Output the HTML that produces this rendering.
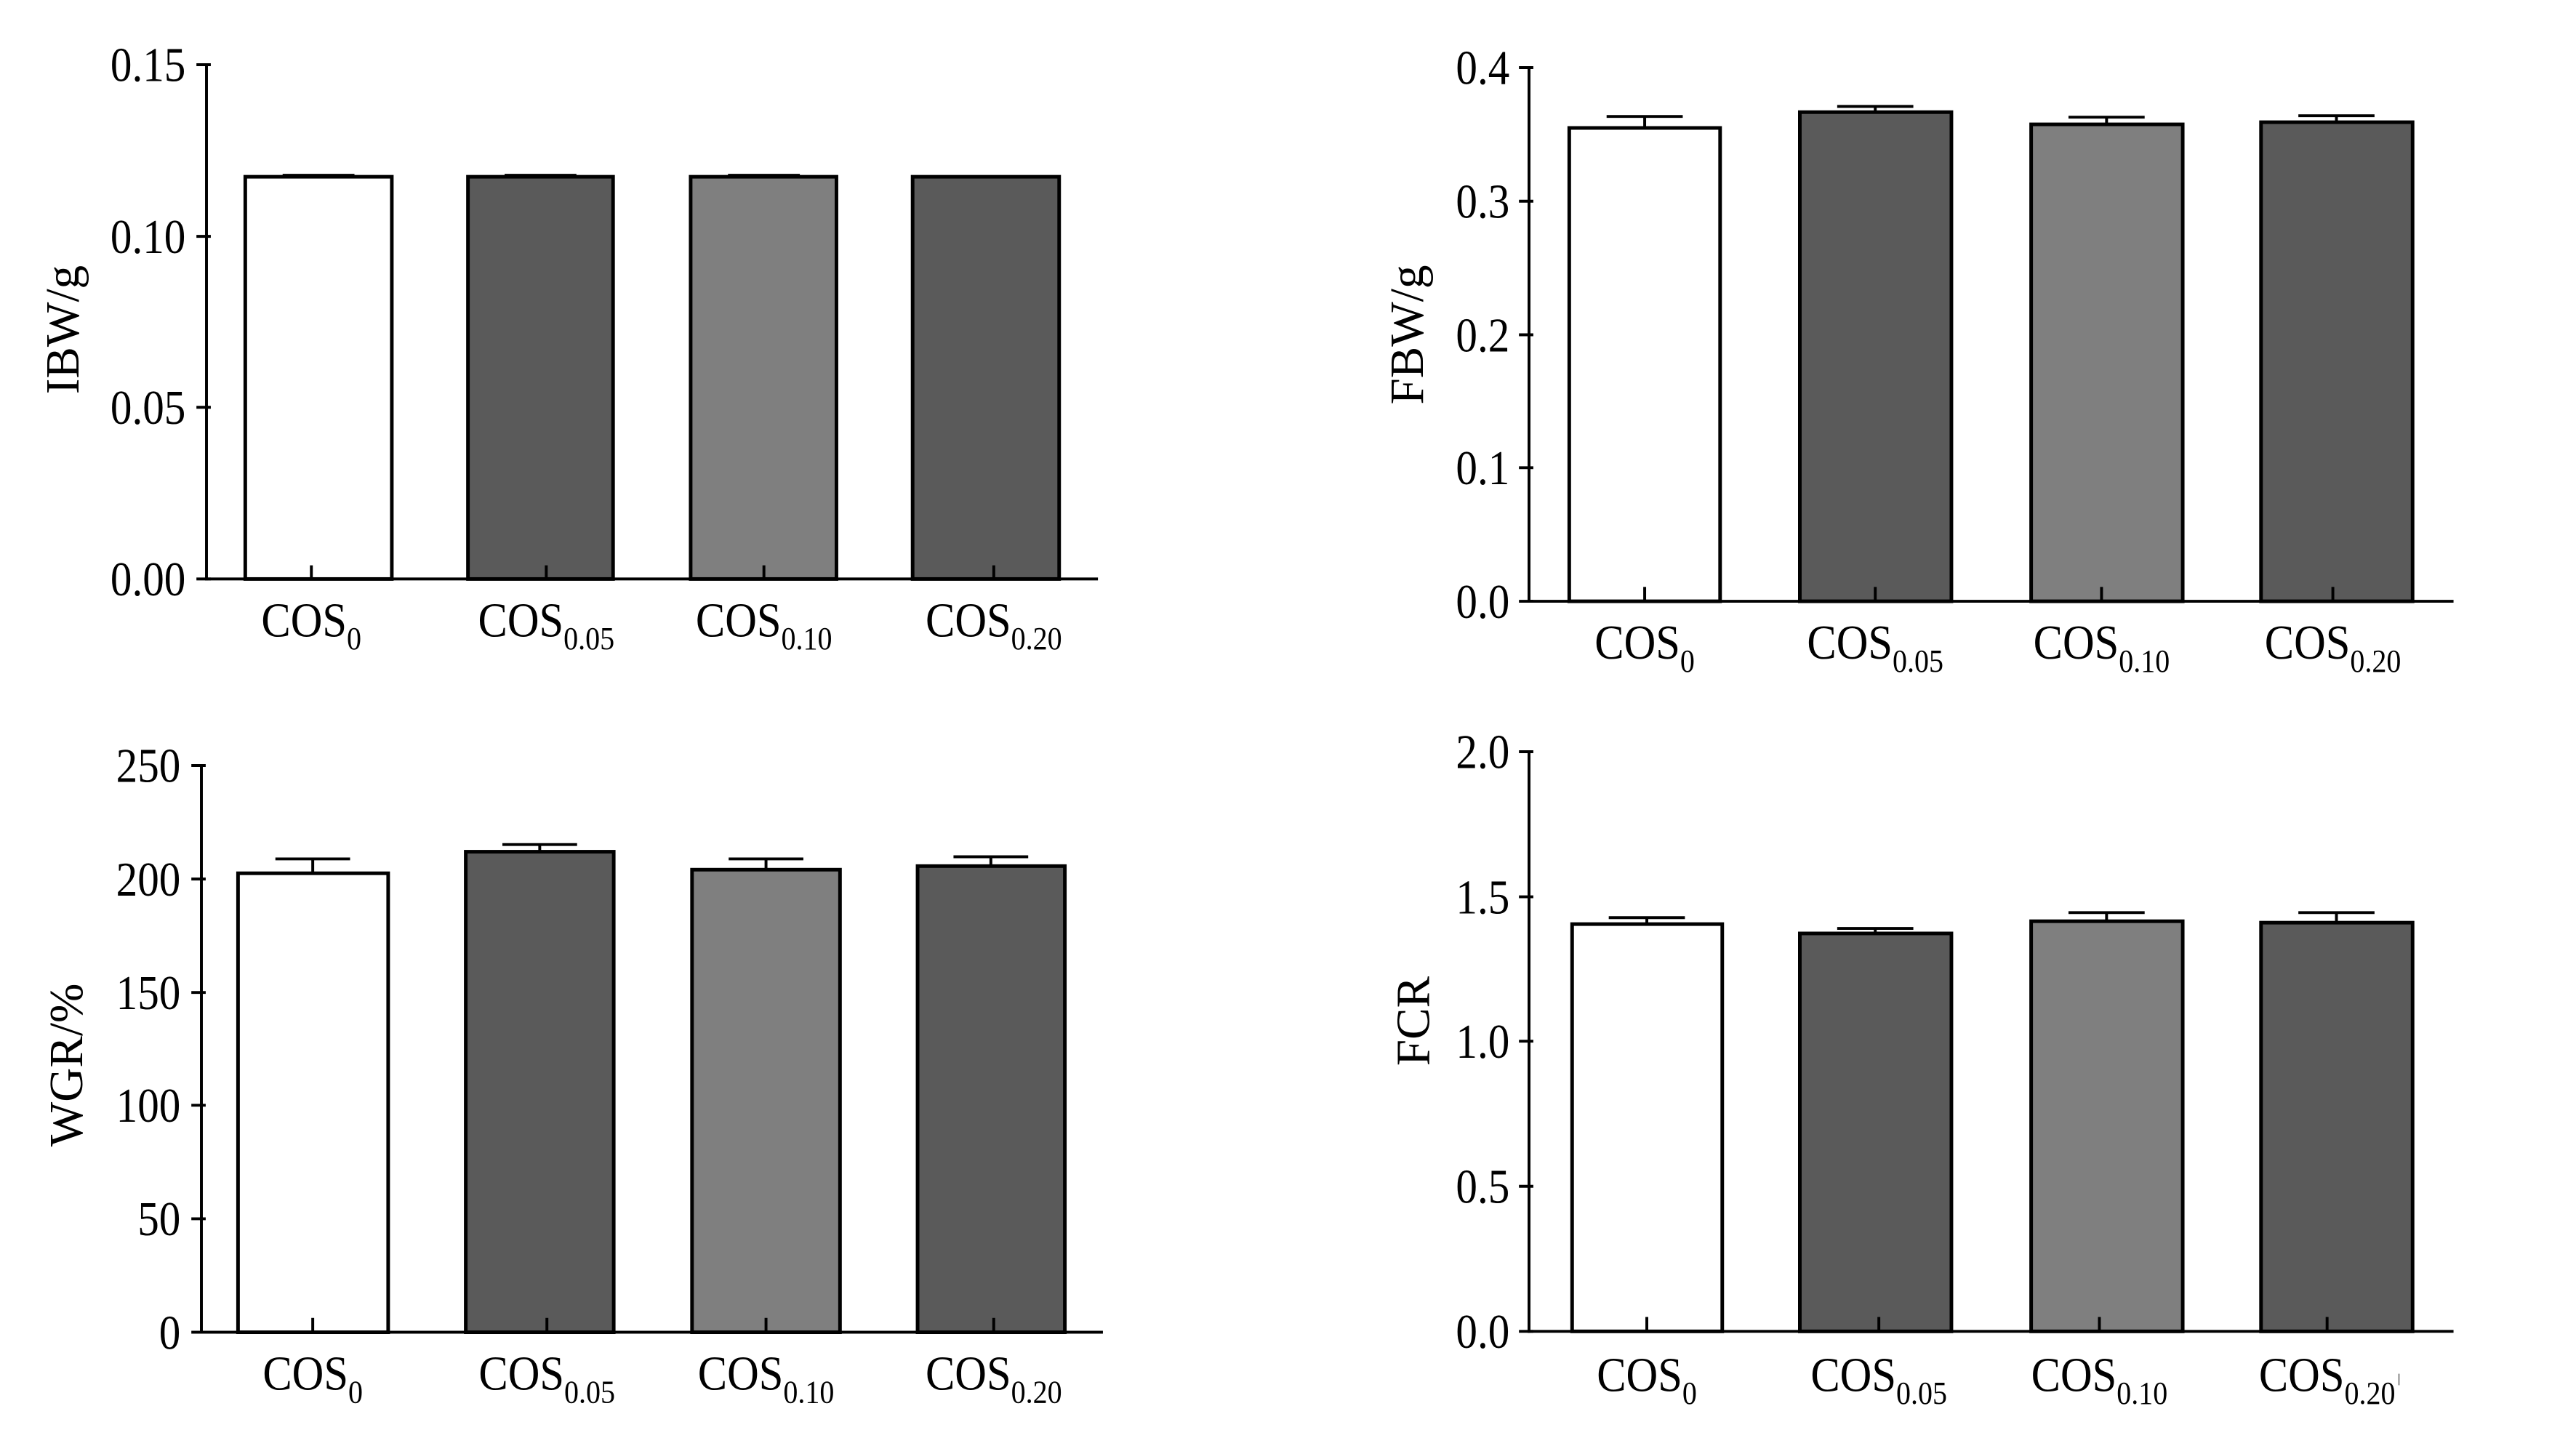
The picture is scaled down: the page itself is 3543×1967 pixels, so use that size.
<!DOCTYPE html>
<html><head><meta charset="utf-8"><style>
html,body{margin:0;padding:0;background:#fff}
svg{display:block}
text{font-family:"Liberation Serif",serif;fill:#000}
</style></head><body>
<svg width="3543" height="1967" viewBox="0 0 3543 1967" xmlns="http://www.w3.org/2000/svg">
<rect width="3543" height="1967" fill="#fff"/>

<!-- Panel 1 -->
<g transform="translate(284,89) scale(0.988) translate(-284,-89)">
<g stroke="#000" stroke-width="4" fill="none">
<line x1="284" y1="87" x2="284" y2="807"/>
<line x1="282" y1="805" x2="1525" y2="805"/>
<line x1="270" y1="89" x2="290" y2="89"/><line x1="270" y1="328" x2="290" y2="328"/><line x1="270" y1="566" x2="290" y2="566"/><line x1="270" y1="805" x2="290" y2="805"/>
</g>
<g stroke="#000" stroke-width="5">
<rect x="338" y="245" width="204" height="560" fill="#fff"/>
<rect x="648" y="245" width="202" height="560" fill="#5a5a5a"/>
<rect x="958" y="245" width="203" height="560" fill="#7f7f7f"/>
<rect x="1267" y="245" width="204" height="560" fill="#5a5a5a"/>
</g>
<g stroke="#000" stroke-width="4">
<line x1="390" y1="243" x2="490" y2="243"/><line x1="699" y1="243" x2="799" y2="243"/><line x1="1010" y1="243" x2="1110" y2="243"/>
<line x1="430" y1="786" x2="430" y2="805"/><line x1="757" y1="786" x2="757" y2="805"/><line x1="1060" y1="786" x2="1060" y2="805"/><line x1="1380" y1="786" x2="1380" y2="805"/>
</g>
<g font-size="68" text-anchor="end">
<text transform="translate(255,112) scale(.88,1)">0.15</text>
<text transform="translate(255,351) scale(.88,1)">0.10</text>
<text transform="translate(255,589) scale(.88,1)">0.05</text>
<text transform="translate(255,828) scale(.88,1)">0.00</text>
</g>
<text font-size="66" text-anchor="middle" transform="translate(106,458) rotate(-90)">IBW/g</text>
<g font-size="68" text-anchor="middle">
<text transform="translate(430,885) scale(.9,1)">COS<tspan font-size="45" dy="18">0</tspan></text>
<text transform="translate(757,885) scale(.9,1)">COS<tspan font-size="45" dy="18">0.05</tspan></text>
<text transform="translate(1060,885) scale(.9,1)">COS<tspan font-size="45" dy="18">0.10</tspan></text>
<text transform="translate(1380,885) scale(.9,1)">COS<tspan font-size="45" dy="18">0.20</tspan></text>
</g>
</g>

<!-- Panel 2 -->
<g transform="translate(2103,93) scale(0.988) translate(-2103,-93)">
<g stroke="#000" stroke-width="4" fill="none">
<line x1="2103" y1="91" x2="2103" y2="838"/>
<line x1="2101" y1="836" x2="3390" y2="836"/>
<line x1="2089" y1="93" x2="2109" y2="93"/><line x1="2089" y1="279" x2="2109" y2="279"/><line x1="2089" y1="465" x2="2109" y2="465"/><line x1="2089" y1="650" x2="2109" y2="650"/><line x1="2089" y1="836" x2="2109" y2="836"/>
</g>
<g stroke="#000" stroke-width="5">
<rect x="2159" y="177" width="210" height="659" fill="#fff"/>
<rect x="2480" y="155" width="211" height="681" fill="#5a5a5a"/>
<rect x="2802" y="172" width="211" height="664" fill="#7f7f7f"/>
<rect x="3122" y="169" width="211" height="667" fill="#5a5a5a"/>
</g>
<g stroke="#000" stroke-width="4">
<line x1="2264" y1="161" x2="2264" y2="177"/><line x1="2211" y1="161" x2="2317" y2="161"/>
<line x1="2585" y1="147" x2="2585" y2="155"/><line x1="2532" y1="147" x2="2638" y2="147"/>
<line x1="2907" y1="162" x2="2907" y2="172"/><line x1="2854" y1="162" x2="2960" y2="162"/>
<line x1="3227" y1="160" x2="3227" y2="169"/><line x1="3174" y1="160" x2="3280" y2="160"/>
<line x1="2264" y1="816" x2="2264" y2="836"/><line x1="2585" y1="816" x2="2585" y2="836"/><line x1="2900" y1="816" x2="2900" y2="836"/><line x1="3222" y1="816" x2="3222" y2="836"/>
</g>
<g font-size="68" text-anchor="end">
<text transform="translate(2076,116) scale(.88,1)">0.4</text>
<text transform="translate(2076,302) scale(.88,1)">0.3</text>
<text transform="translate(2076,488) scale(.88,1)">0.2</text>
<text transform="translate(2076,673) scale(.88,1)">0.1</text>
<text transform="translate(2076,859) scale(.88,1)">0.0</text>
</g>
<text font-size="66" text-anchor="middle" transform="translate(1955,465) rotate(-90)">FBW/g</text>
<g font-size="68" text-anchor="middle">
<text transform="translate(2264,916) scale(.9,1)">COS<tspan font-size="45" dy="18">0</tspan></text>
<text transform="translate(2585,916) scale(.9,1)">COS<tspan font-size="45" dy="18">0.05</tspan></text>
<text transform="translate(2900,916) scale(.9,1)">COS<tspan font-size="45" dy="18">0.10</tspan></text>
<text transform="translate(3222,916) scale(.9,1)">COS<tspan font-size="45" dy="18">0.20</tspan></text>
</g>
</g>

<!-- Panel 3 -->
<g transform="translate(277,1053) scale(0.988) translate(-277,-1053)">
<g stroke="#000" stroke-width="4" fill="none">
<line x1="277" y1="1051" x2="277" y2="1844"/>
<line x1="275" y1="1842" x2="1532" y2="1842"/>
<line x1="263" y1="1053" x2="283" y2="1053"/><line x1="263" y1="1211" x2="283" y2="1211"/><line x1="263" y1="1369" x2="283" y2="1369"/><line x1="263" y1="1526" x2="283" y2="1526"/><line x1="263" y1="1684" x2="283" y2="1684"/><line x1="263" y1="1842" x2="283" y2="1842"/>
</g>
<g stroke="#000" stroke-width="5">
<rect x="328" y="1203" width="209" height="639" fill="#fff"/>
<rect x="645" y="1173" width="206" height="669" fill="#5a5a5a"/>
<rect x="960" y="1198" width="206" height="644" fill="#7f7f7f"/>
<rect x="1274" y="1193" width="205" height="649" fill="#5a5a5a"/>
</g>
<g stroke="#000" stroke-width="4">
<line x1="432" y1="1183" x2="432" y2="1203"/><line x1="380" y1="1183" x2="484" y2="1183"/>
<line x1="748" y1="1163" x2="748" y2="1173"/><line x1="696" y1="1163" x2="800" y2="1163"/>
<line x1="1063" y1="1183" x2="1063" y2="1198"/><line x1="1011" y1="1183" x2="1115" y2="1183"/>
<line x1="1376" y1="1180" x2="1376" y2="1193"/><line x1="1324" y1="1180" x2="1428" y2="1180"/>
<line x1="432" y1="1822" x2="432" y2="1842"/><line x1="758" y1="1822" x2="758" y2="1842"/><line x1="1063" y1="1822" x2="1063" y2="1842"/><line x1="1380" y1="1822" x2="1380" y2="1842"/>
</g>
<g font-size="68" text-anchor="end">
<text transform="translate(248,1076) scale(.88,1)">250</text>
<text transform="translate(248,1234) scale(.88,1)">200</text>
<text transform="translate(248,1392) scale(.88,1)">150</text>
<text transform="translate(248,1549) scale(.88,1)">100</text>
<text transform="translate(248,1707) scale(.88,1)">50</text>
<text transform="translate(248,1865) scale(.88,1)">0</text>
</g>
<text font-size="66" text-anchor="middle" transform="translate(111,1470) rotate(-90)">WGR/%</text>
<g font-size="68" text-anchor="middle">
<text transform="translate(432,1922) scale(.9,1)">COS<tspan font-size="45" dy="18">0</tspan></text>
<text transform="translate(758,1922) scale(.9,1)">COS<tspan font-size="45" dy="18">0.05</tspan></text>
<text transform="translate(1063,1922) scale(.9,1)">COS<tspan font-size="45" dy="18">0.10</tspan></text>
<text transform="translate(1380,1922) scale(.9,1)">COS<tspan font-size="45" dy="18">0.20</tspan></text>
</g>
</g>

<!-- Panel 4 -->
<g transform="translate(2103,1034) scale(0.988) translate(-2103,-1034)">
<g stroke="#000" stroke-width="4" fill="none">
<line x1="2103" y1="1032" x2="2103" y2="1843"/>
<line x1="2101" y1="1841" x2="3390" y2="1841"/>
<line x1="2089" y1="1034" x2="2109" y2="1034"/><line x1="2089" y1="1236" x2="2109" y2="1236"/><line x1="2089" y1="1437" x2="2109" y2="1437"/><line x1="2089" y1="1639" x2="2109" y2="1639"/><line x1="2089" y1="1841" x2="2109" y2="1841"/>
</g>
<g stroke="#000" stroke-width="5">
<rect x="2163" y="1274" width="209" height="567" fill="#fff"/>
<rect x="2480" y="1287" width="211" height="554" fill="#5a5a5a"/>
<rect x="2802" y="1270" width="211" height="571" fill="#7f7f7f"/>
<rect x="3122" y="1272" width="211" height="569" fill="#5a5a5a"/>
</g>
<g stroke="#000" stroke-width="4">
<line x1="2267" y1="1265" x2="2267" y2="1274"/><line x1="2214" y1="1265" x2="2320" y2="1265"/>
<line x1="2585" y1="1280" x2="2585" y2="1287"/><line x1="2532" y1="1280" x2="2638" y2="1280"/>
<line x1="2907" y1="1258" x2="2907" y2="1270"/><line x1="2854" y1="1258" x2="2960" y2="1258"/>
<line x1="3227" y1="1258" x2="3227" y2="1272"/><line x1="3174" y1="1258" x2="3280" y2="1258"/>
<line x1="2267" y1="1821" x2="2267" y2="1841"/><line x1="2590" y1="1821" x2="2590" y2="1841"/><line x1="2897" y1="1821" x2="2897" y2="1841"/><line x1="3214" y1="1821" x2="3214" y2="1841"/>
</g>
<g font-size="68" text-anchor="end">
<text transform="translate(2076,1057) scale(.88,1)">2.0</text>
<text transform="translate(2076,1259) scale(.88,1)">1.5</text>
<text transform="translate(2076,1460) scale(.88,1)">1.0</text>
<text transform="translate(2076,1662) scale(.88,1)">0.5</text>
<text transform="translate(2076,1864) scale(.88,1)">0.0</text>
</g>
<text font-size="66" text-anchor="middle" transform="translate(1964,1409) rotate(-90)">FCR</text>
<g font-size="68" text-anchor="middle">
<text transform="translate(2267,1924) scale(.9,1)">COS<tspan font-size="45" dy="18">0</tspan></text>
<text transform="translate(2590,1924) scale(.9,1)">COS<tspan font-size="45" dy="18">0.05</tspan></text>
<text transform="translate(2897,1924) scale(.9,1)">COS<tspan font-size="45" dy="18">0.10</tspan></text>
<text transform="translate(3214,1924) scale(.9,1)">COS<tspan font-size="45" dy="18">0.20</tspan></text>
</g>
<line x1="3314" y1="1900" x2="3314" y2="1916" stroke="#888" stroke-width="2"/>
</g>
</svg>
</body></html>
